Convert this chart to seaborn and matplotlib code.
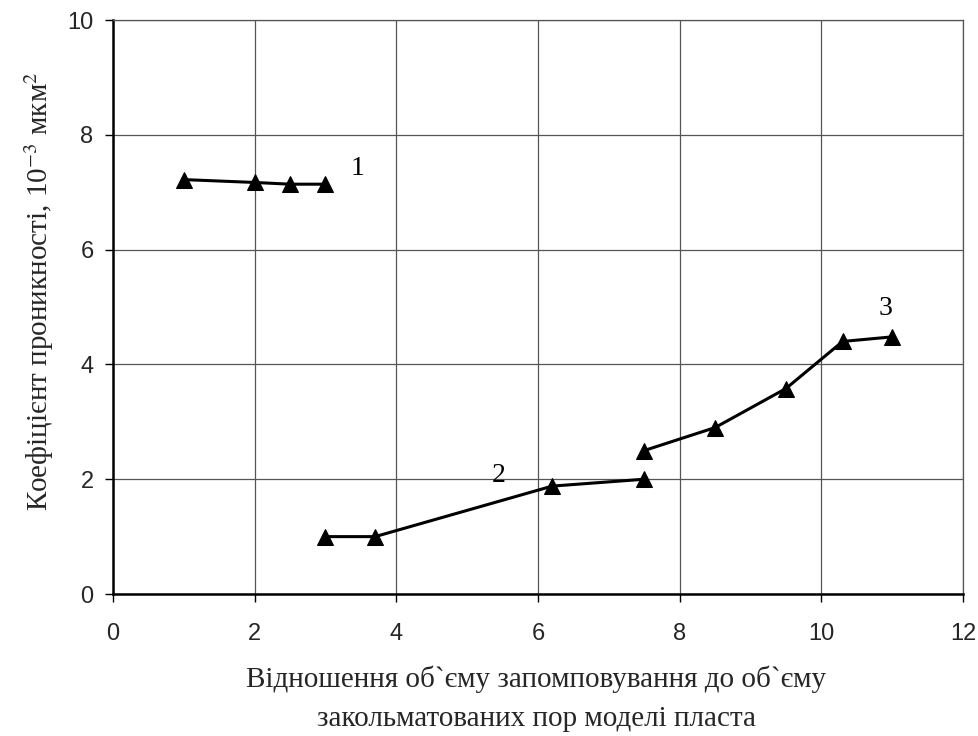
import matplotlib
matplotlib.use("Agg")
import matplotlib.pyplot as plt
import seaborn as sns

# Data
x1 = [1.0, 2.0, 2.5, 3.0]
y1 = [7.22, 7.17, 7.14, 7.14]
x2 = [3.0, 3.7, 6.2, 7.5]
y2 = [1.0, 1.0, 1.88, 2.0]
x3 = [7.5, 8.5, 9.5, 10.3, 11.0]
y3 = [2.5, 2.9, 3.58, 4.4, 4.48]
curve_labels = ["1", "2", "3"]
label_pos_x = [3.45, 5.45, 10.9]
label_pos_y = [7.42, 2.07, 4.97]
x_ticks = [0, 2, 4, 6, 8, 10, 12]
y_ticks = [0, 2, 4, 6, 8, 10]

sns.set_theme(style="white")
plt.rcParams['font.family'] = ['Liberation Serif', 'DejaVu Serif']
plt.rcParams['mathtext.fontset'] = 'stix'

fig = plt.figure(figsize=(9.79, 7.36), dpi=100)
ax = fig.add_axes([0.1154, 0.1929, 0.9837 - 0.1154, 0.9728 - 0.1929])

for xs, ys in [(x1, y1), (x2, y2), (x3, y3)]:
    sns.lineplot(x=xs, y=ys, ax=ax, color="black", marker="^", markersize=11,
                 linewidth=2.2, sort=False, estimator=None,
                 markeredgecolor="black", markerfacecolor="black")

for t, lx, ly in zip(curve_labels, label_pos_x, label_pos_y):
    ax.text(lx, ly, t, fontsize=20, ha="center", va="center", color="black",
            family=['Liberation Serif'])

ax.set_xlim(0, 12)
ax.set_ylim(0, 10)
ax.set_xticks(x_ticks)
ax.set_yticks(y_ticks)
ax.set_xticklabels([str(v) for v in x_ticks], family=['Liberation Sans'], fontsize=17)
ax.set_yticklabels([str(v) for v in y_ticks], family=['Liberation Sans'], fontsize=17)
ax.tick_params(axis='both', direction='out', length=6, width=1, color='black',
               bottom=True, left=True)
ax.tick_params(axis='x', pad=15)
ax.tick_params(axis='y', pad=8)

ax.grid(True, color="#555555", linewidth=0.9)
ax.set_axisbelow(True)

for side in ['left', 'bottom']:
    ax.spines[side].set_color('black')
    ax.spines[side].set_linewidth(1.8)
for side in ['top', 'right']:
    ax.spines[side].set_color('#555555')
    ax.spines[side].set_linewidth(0.9)

ax.set_xlabel("Відношення об`єму запомповування до об`єму\nзакольматованих пор моделі пласта",
              fontsize=21, linespacing=1.65)
ax.xaxis.set_label_coords((536 - 113) / 850, (594 - 665) / 574)
ax.xaxis.label.set_va('top')
ax.set_ylabel("Коефіцієнт проникності, 10$^{-3}$ мкм$^{2}$", fontsize=21)
ax.yaxis.set_label_coords((39 - 113) / 850, (594 - 291) / 574)
ax.yaxis.label.set_va('center')

fig.savefig("out.png", dpi=100)
